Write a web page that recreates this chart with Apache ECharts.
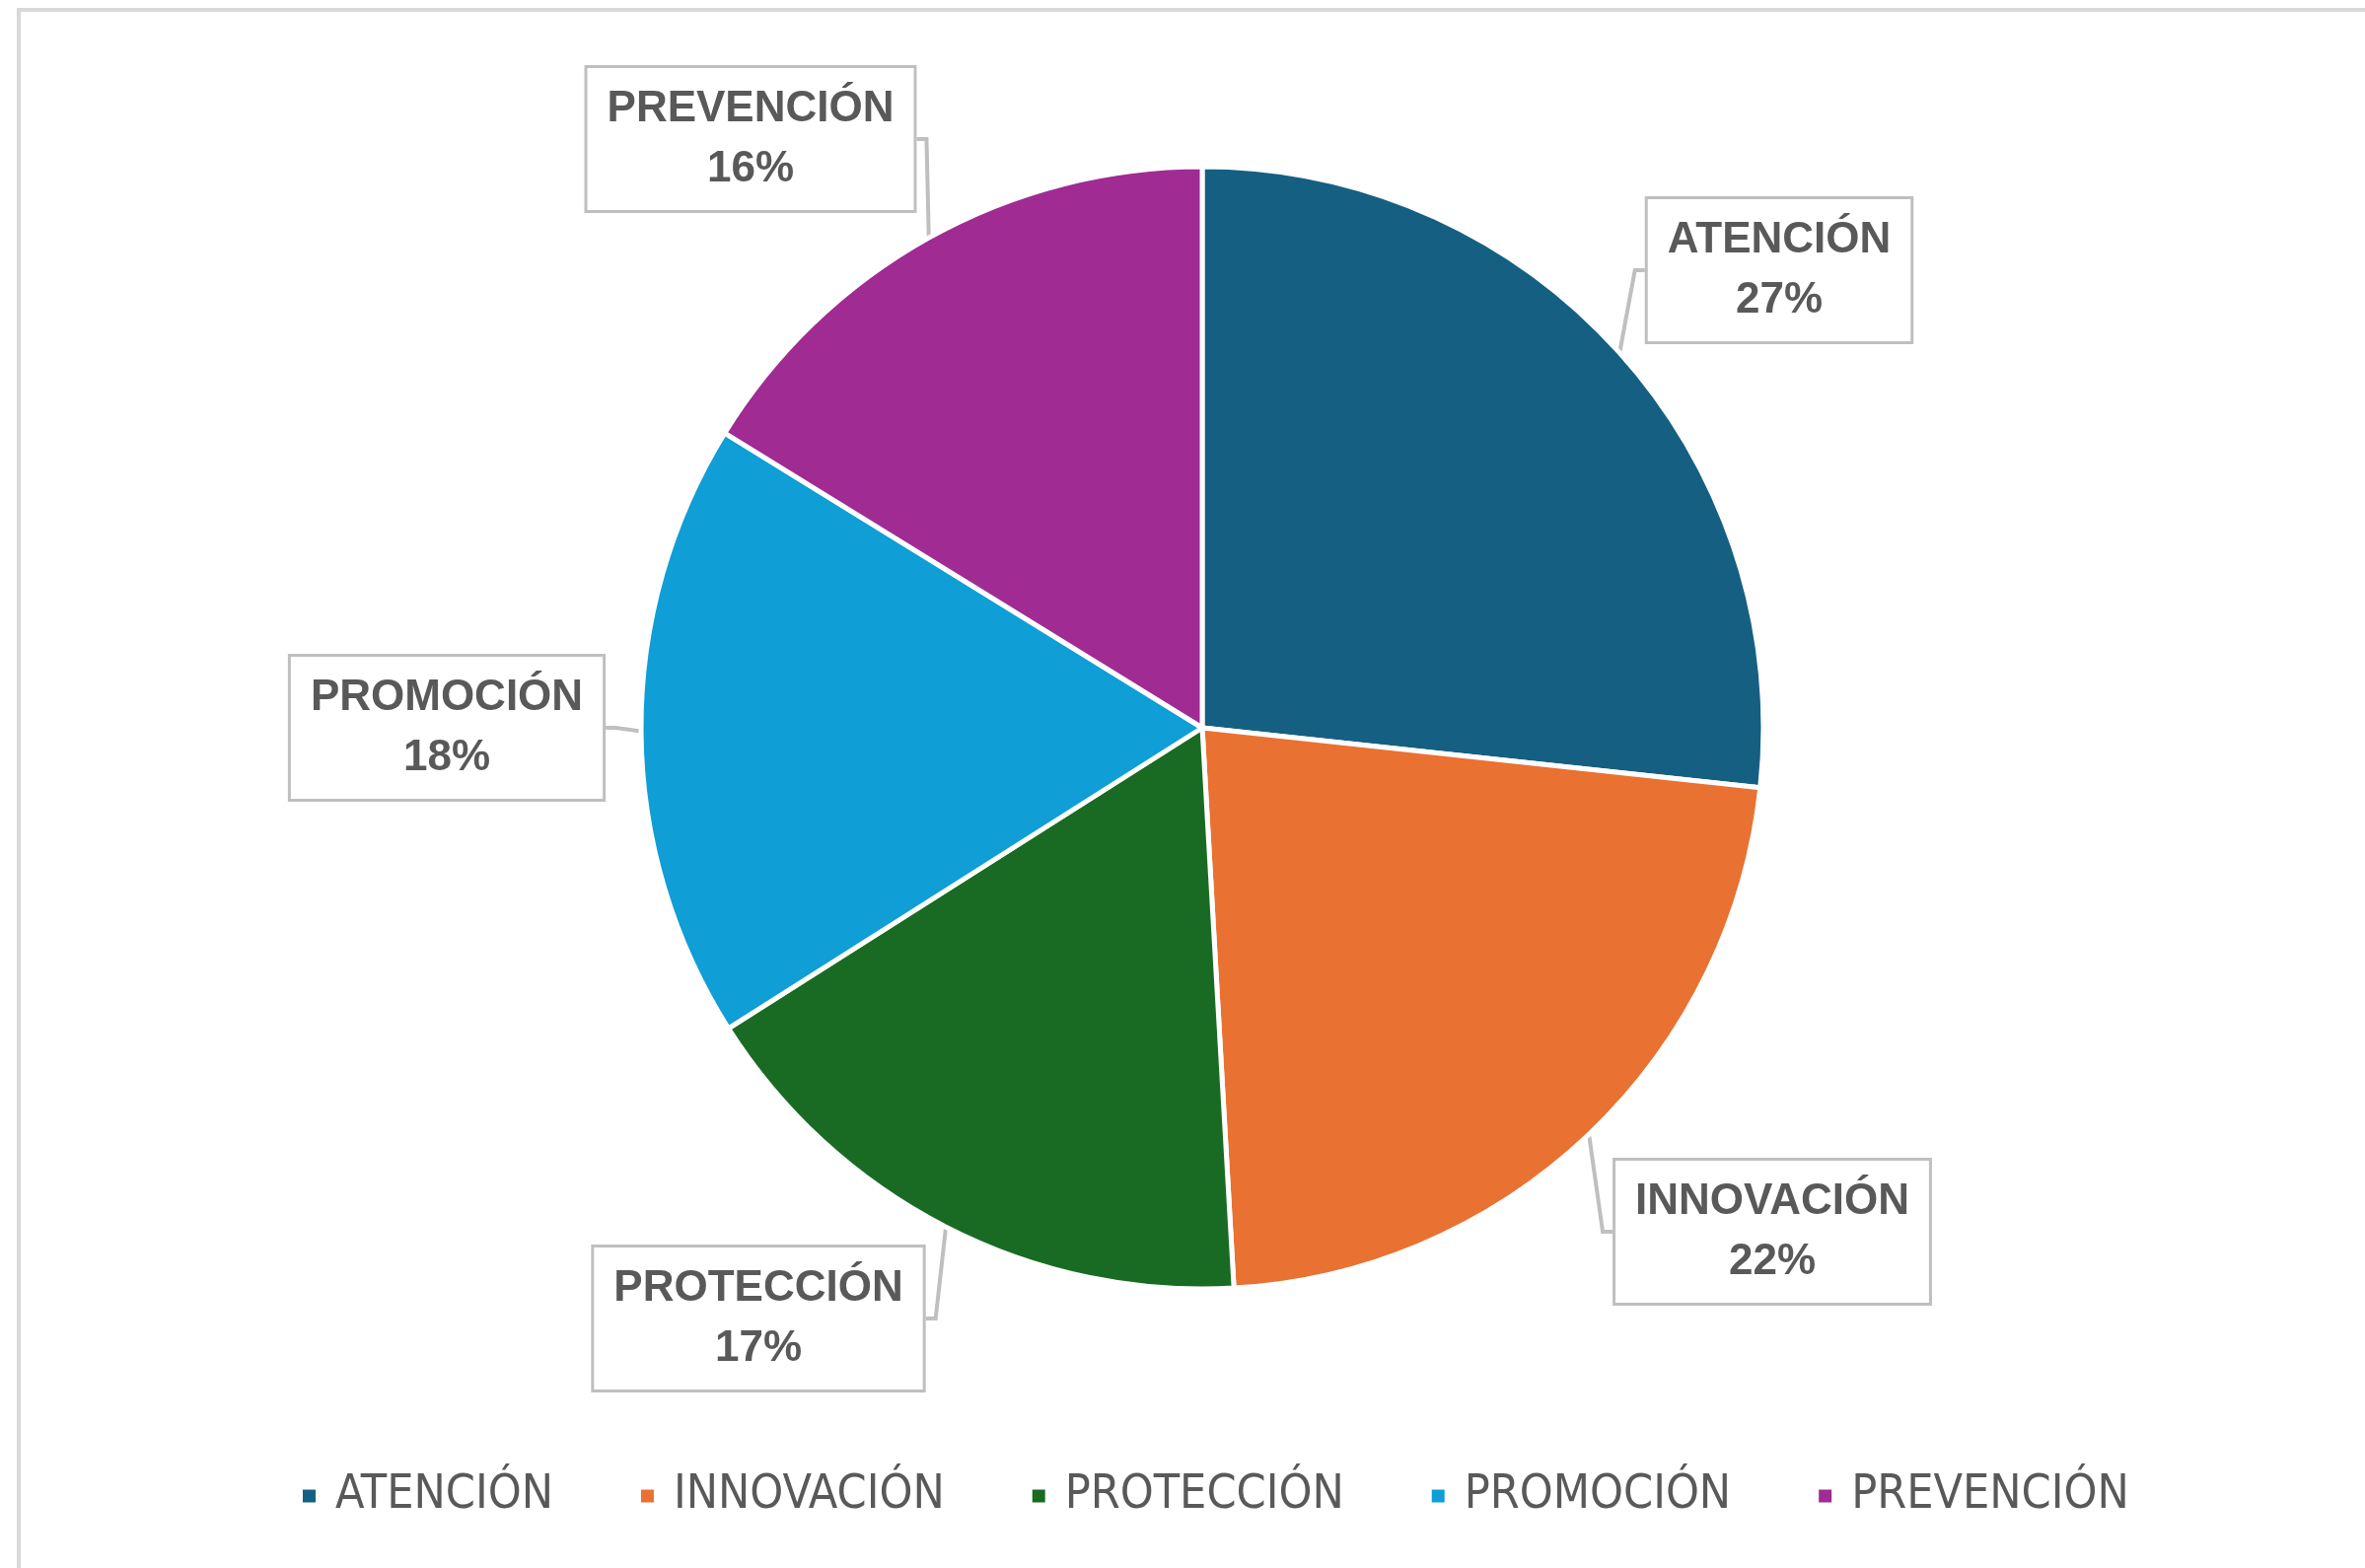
<!DOCTYPE html>
<html>
<head>
<meta charset="utf-8">
<script src="https://cdn.jsdelivr.net/npm/echarts@6/dist/echarts.min.js"></script>
<style>
  html, body { margin: 0; padding: 0; background: #fff; }
  #chart { width: 2398px; height: 1590px; }
</style>
</head>
<body>
<div id="chart"></div>
<script>
// datos
const categorias = ["ATENCIÓN", "INNOVACIÓN", "PROTECCIÓN", "PROMOCIÓN", "PREVENCIÓN"];
const valores = [26.7, 22.4, 16.9, 17.8, 16.2];
const colores = ["#156082", "#E97132", "#196B24", "#0F9ED5", "#A02B93"];

// posicion (centro) de cada etiqueta tipo "callout"
const posEtiquetas = [
  [1804, 274],
  [1797, 1249],
  [769, 1337],
  [453, 738],
  [761, 141]
];

const chart = echarts.init(document.getElementById("chart"));

chart.setOption({
  backgroundColor: "#fff",
  animation: false,
  color: colores,
  // marco gris claro del área del gráfico
  graphic: [
    {
      type: "rect",
      shape: { x: 19, y: 10, width: 2420, height: 1640 },
      style: { fill: "none", stroke: "#d9d9d9", lineWidth: 4 },
      silent: true
    }
  ],
  legend: {
    data: categorias,
    bottom: 44,
    left: 300,
    icon: "rect",
    itemWidth: 15,
    itemHeight: 15,
    itemGap: 87,
    textStyle: {
      color: "#595959",
      fontSize: 48,
      fontFamily: "Liberation Sans Narrow, DejaVu Sans Condensed, Liberation Sans, sans-serif",
      padding: [0, 0, 0, 14]
    }
  },
  series: [
    {
      type: "pie",
      center: [1219, 738],
      radius: 569,
      startAngle: 90,
      clockwise: true,
      itemStyle: {
        borderColor: "#fff",
        borderWidth: 5
      },
      label: {
        show: true,
        position: "outside",
        formatter: (p) => p.name + "\n" + Math.round(p.percent) + "%",
        color: "#595959",
        fontSize: 44,
        fontWeight: "bold",
        fontFamily: "Liberation Sans, Arial, sans-serif",
        lineHeight: 61,
        align: "center",
        backgroundColor: "#fff",
        borderColor: "#bfbfbf",
        borderWidth: 3,
        padding: [12, 20, 10, 20]
      },
      labelLine: {
        show: true,
        length: 20,
        length2: 10,
        lineStyle: { color: "#bfbfbf", width: 4 }
      },
      labelLayout: (params) => {
        const p = posEtiquetas[params.dataIndex];
        return {
          x: p[0],
          y: p[1],
          align: "center",
          verticalAlign: "middle"
        };
      },
      data: categorias.map((c, i) => ({ name: c, value: valores[i] }))
    }
  ]
});
</script>
</body>
</html>
